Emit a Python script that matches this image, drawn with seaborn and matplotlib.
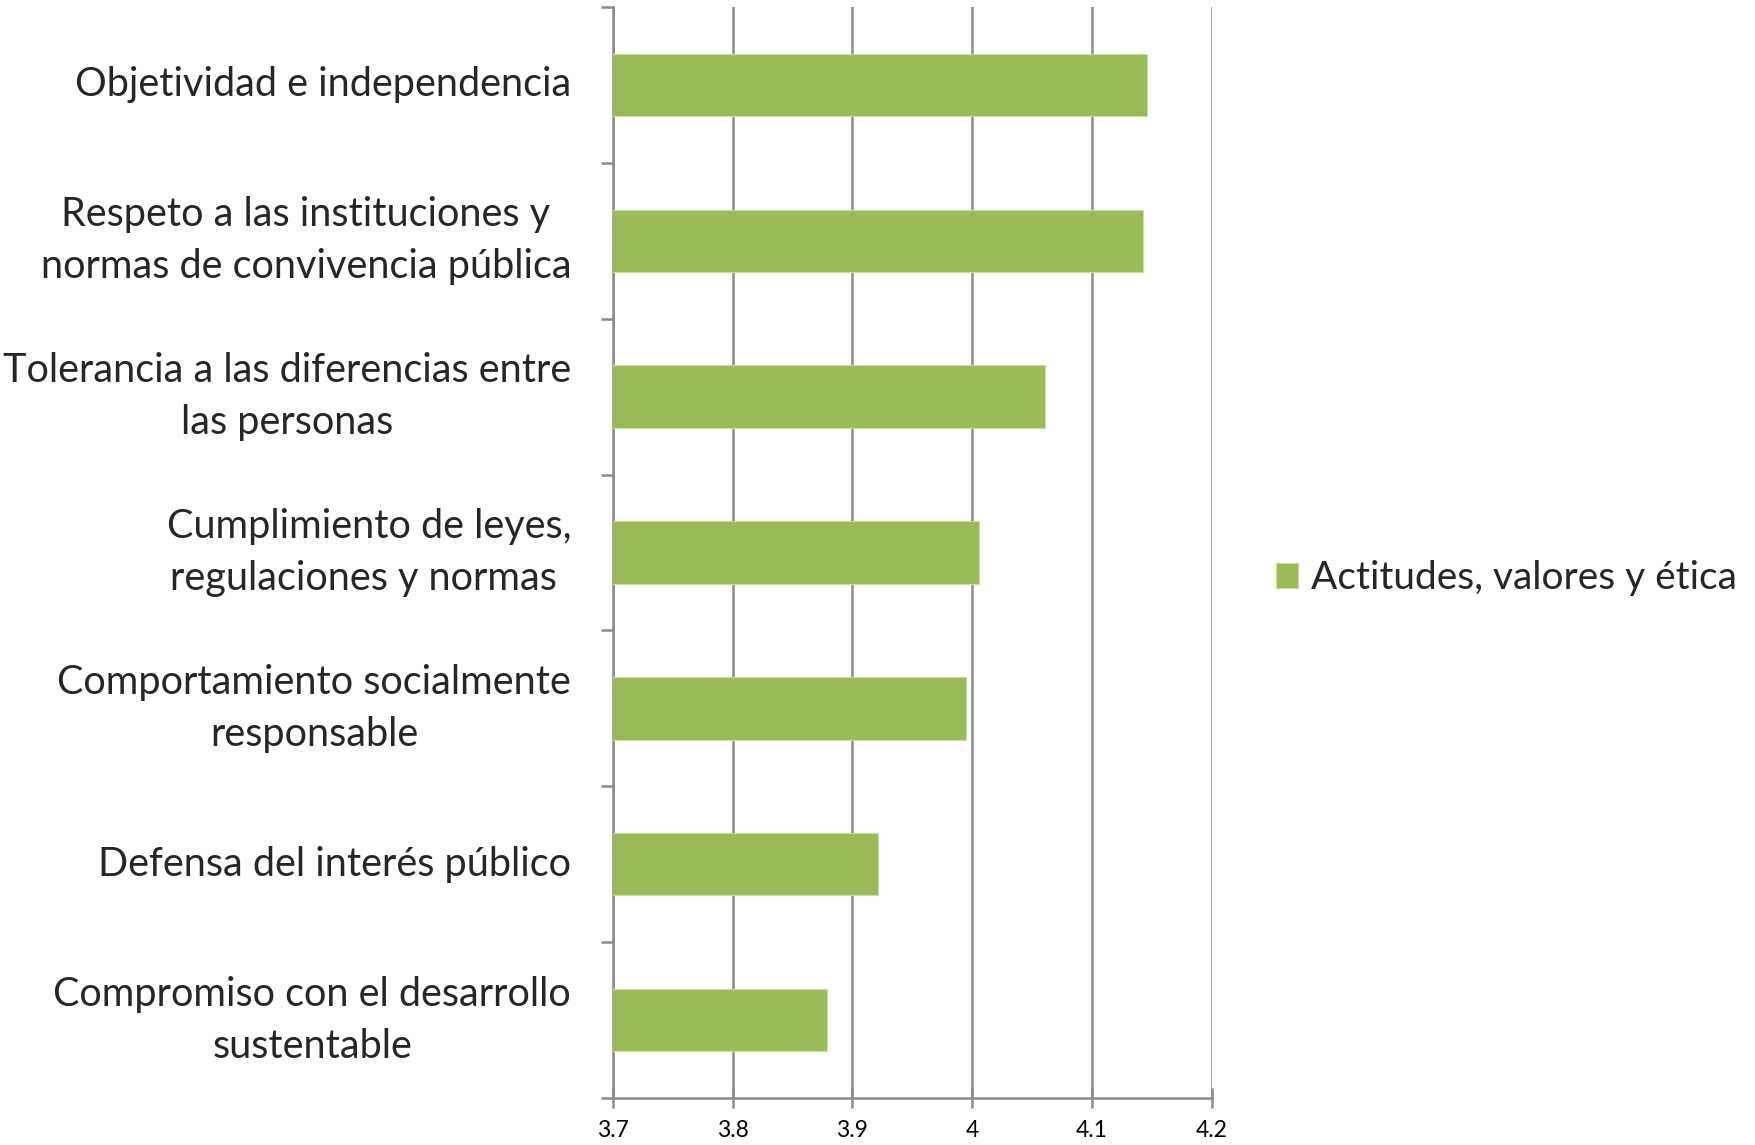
import matplotlib
matplotlib.use("Agg")
import matplotlib.pyplot as plt
from matplotlib.ticker import FixedLocator
import seaborn as sns
import pandas as pd

categories = [
    "Objetividad e independencia",
    "Respeto a las instituciones y\nnormas de convivencia pública",
    "Tolerancia a las diferencias entre\nlas personas",
    "Cumplimiento de leyes,\nregulaciones y normas ",
    "Comportamiento socialmente\nresponsable",
    "Defensa del interés público",
    "Compromiso con el desarrollo\nsustentable",
]
values = [4.146, 4.143, 4.061, 4.006, 3.995, 3.921, 3.879]
series_name = "Actitudes, valores y ética"
x_ticks = [3.7, 3.8, 3.9, 4.0, 4.1, 4.2]
x_tick_labels = ["3.7", "3.8", "3.9", "4", "4.1", "4.2"]

df = pd.DataFrame({"categoria": categories, "valor": values, "serie": series_name})

sns.set_theme(style="white")
plt.rcParams["font.family"] = ["Lato", "DejaVu Sans"]

fig = plt.figure(figsize=(17.56, 11.45), dpi=100)
ax = fig.add_axes([0.349, 0.041, 0.341, 0.953])

green = "#9BBB59"
grey = "#8C8C8C"

sns.barplot(data=df, x="valor", y="categoria", hue="serie", palette=[green],
            orient="h", width=0.4, dodge=False, ax=ax, saturation=1,
            edgecolor="#C9DDA0", linewidth=0.8, zorder=3)

ax.set_xlim(3.7, 4.2)
ax.set_ylim(len(categories) - 0.5, -0.5)
ax.set_xticks(x_ticks)
ax.set_xticklabels(x_tick_labels, fontsize=16.5, color="#000000")
ax.set_xlabel("")
ax.set_ylabel("")

ax.xaxis.grid(True, color=grey, linewidth=1.8, zorder=0)
ax.yaxis.grid(False)
ax.set_axisbelow(True)

for s in ["top", "right"]:
    ax.spines[s].set_visible(False)
for s in ["left", "bottom"]:
    ax.spines[s].set_visible(True)
    ax.spines[s].set_color(grey)
    ax.spines[s].set_linewidth(1.8)

ax.tick_params(axis="x", which="major", direction="inout", length=14, width=1.8,
               color=grey, pad=9, bottom=True)
ax.tick_params(axis="y", which="major", length=0, pad=30, labelsize=28.5)
ax.yaxis.set_minor_locator(FixedLocator([i - 0.5 for i in range(len(categories) + 1)]))
ax.tick_params(axis="y", which="minor", direction="out", length=9, width=1.8,
               color=grey, left=True)
for lbl in ax.get_yticklabels():
    lbl.set_horizontalalignment("right")
    lbl.set_verticalalignment("center")
    lbl.set_multialignment("center")
    lbl.set_linespacing(1.5)

leg = ax.legend(loc="center left", bbox_to_anchor=(0.7265, 0.495),
                bbox_transform=fig.transFigure, frameon=False, fontsize=28,
                handlelength=0.58, handleheight=0.58, handletextpad=0.32,
                borderaxespad=0, borderpad=0)

fig.savefig("out.png", dpi=100, facecolor="white")
